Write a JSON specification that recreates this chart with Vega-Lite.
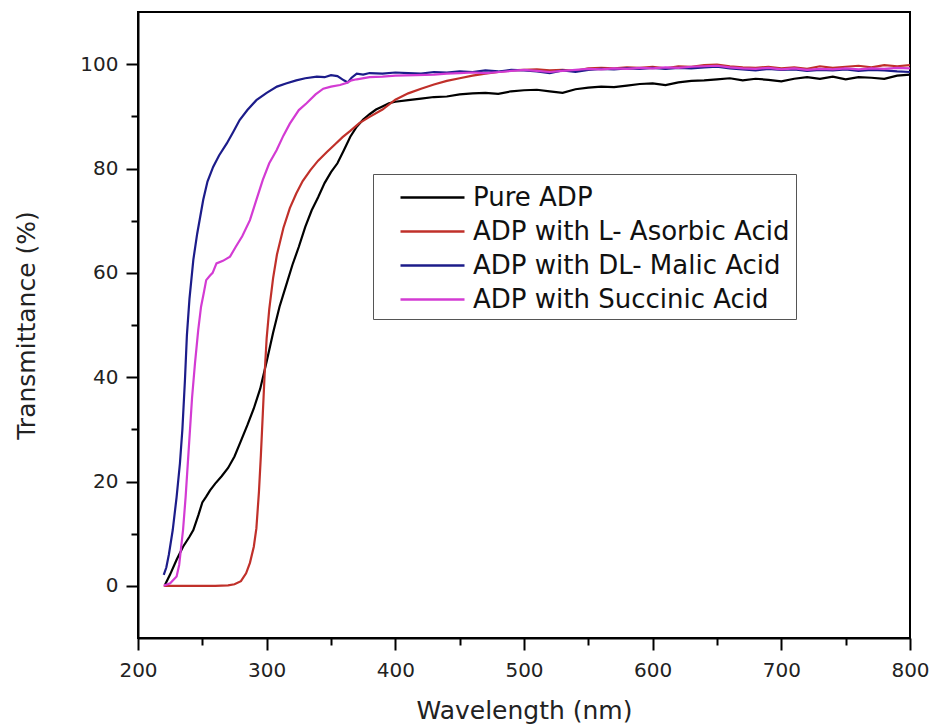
{
  "$schema": "https://vega.github.io/schema/vega-lite/v6.json",
  "width": 772,
  "height": 626,
  "autosize": {"type": "none"},
  "padding": {"left": 138, "top": 12, "right": 23, "bottom": 89},
  "background": "white",
  "config": {
    "font": "DejaVu Sans",
    "view": {"stroke": "black", "strokeWidth": 2},
    "axis": {"grid": false, "domainColor": "black", "domainWidth": 2, "tickColor": "black", "tickWidth": 2, "labelColor": "#222", "titleColor": "#222", "labelFont": "DejaVu Sans", "titleFont": "DejaVu Sans", "labelFontSize": 20, "titleFontSize": 25, "titleFontWeight": "normal"}
  },
  "datasets": {
    "raw": [
      {"s":"Pure ADP","w":221,"t":0.2},{"s":"Pure ADP","w":225,"t":2.2},{"s":"Pure ADP","w":230,"t":5},{"s":"Pure ADP","w":235,"t":7.5},{"s":"Pure ADP","w":240,"t":9.4},{"s":"Pure ADP","w":243,"t":10.7},{"s":"Pure ADP","w":247,"t":13.6},{"s":"Pure ADP","w":250,"t":16},{"s":"Pure ADP","w":253,"t":17.1},{"s":"Pure ADP","w":256,"t":18.3},{"s":"Pure ADP","w":260,"t":19.6},{"s":"Pure ADP","w":265,"t":21},{"s":"Pure ADP","w":270,"t":22.6},{"s":"Pure ADP","w":275,"t":24.8},{"s":"Pure ADP","w":280,"t":27.8},{"s":"Pure ADP","w":285,"t":30.8},{"s":"Pure ADP","w":290,"t":34},{"s":"Pure ADP","w":295,"t":37.8},{"s":"Pure ADP","w":300,"t":43},{"s":"Pure ADP","w":305,"t":48.5},{"s":"Pure ADP","w":310,"t":53.5},{"s":"Pure ADP","w":315,"t":57.5},{"s":"Pure ADP","w":320,"t":61.5},{"s":"Pure ADP","w":325,"t":65},{"s":"Pure ADP","w":330,"t":68.8},{"s":"Pure ADP","w":335,"t":72},{"s":"Pure ADP","w":340,"t":74.5},{"s":"Pure ADP","w":345,"t":77.2},{"s":"Pure ADP","w":350,"t":79.3},{"s":"Pure ADP","w":355,"t":81},{"s":"Pure ADP","w":360,"t":83.5},{"s":"Pure ADP","w":365,"t":86.1},{"s":"Pure ADP","w":370,"t":88},{"s":"Pure ADP","w":375,"t":89.4},{"s":"Pure ADP","w":380,"t":90.4},{"s":"Pure ADP","w":385,"t":91.3},{"s":"Pure ADP","w":390,"t":91.9},{"s":"Pure ADP","w":395,"t":92.5},{"s":"Pure ADP","w":400,"t":92.8},{"s":"Pure ADP","w":410,"t":93.1},{"s":"Pure ADP","w":420,"t":93.4},{"s":"Pure ADP","w":430,"t":93.7},{"s":"Pure ADP","w":440,"t":93.8},{"s":"Pure ADP","w":450,"t":94.2},{"s":"Pure ADP","w":460,"t":94.4},{"s":"Pure ADP","w":470,"t":94.5},{"s":"Pure ADP","w":480,"t":94.3},{"s":"Pure ADP","w":490,"t":94.8},{"s":"Pure ADP","w":500,"t":95},{"s":"Pure ADP","w":510,"t":95.1},{"s":"Pure ADP","w":520,"t":94.8},{"s":"Pure ADP","w":530,"t":94.5},{"s":"Pure ADP","w":540,"t":95.2},{"s":"Pure ADP","w":550,"t":95.5},{"s":"Pure ADP","w":560,"t":95.7},{"s":"Pure ADP","w":570,"t":95.6},{"s":"Pure ADP","w":580,"t":95.9},{"s":"Pure ADP","w":590,"t":96.2},{"s":"Pure ADP","w":600,"t":96.3},{"s":"Pure ADP","w":610,"t":96},{"s":"Pure ADP","w":620,"t":96.5},{"s":"Pure ADP","w":630,"t":96.8},{"s":"Pure ADP","w":640,"t":96.9},{"s":"Pure ADP","w":650,"t":97.1},{"s":"Pure ADP","w":660,"t":97.3},{"s":"Pure ADP","w":670,"t":96.9},{"s":"Pure ADP","w":680,"t":97.2},{"s":"Pure ADP","w":690,"t":97},{"s":"Pure ADP","w":700,"t":96.7},{"s":"Pure ADP","w":710,"t":97.2},{"s":"Pure ADP","w":720,"t":97.5},{"s":"Pure ADP","w":730,"t":97.2},{"s":"Pure ADP","w":740,"t":97.6},{"s":"Pure ADP","w":750,"t":97.1},{"s":"Pure ADP","w":760,"t":97.5},{"s":"Pure ADP","w":770,"t":97.4},{"s":"Pure ADP","w":780,"t":97.2},{"s":"Pure ADP","w":790,"t":97.8},{"s":"Pure ADP","w":800,"t":98},

      {"s":"ADP with L- Asorbic Acid","w":220,"t":0},{"s":"ADP with L- Asorbic Acid","w":230,"t":0},{"s":"ADP with L- Asorbic Acid","w":240,"t":0},{"s":"ADP with L- Asorbic Acid","w":250,"t":0},{"s":"ADP with L- Asorbic Acid","w":260,"t":0},{"s":"ADP with L- Asorbic Acid","w":270,"t":0.1},{"s":"ADP with L- Asorbic Acid","w":275,"t":0.3},{"s":"ADP with L- Asorbic Acid","w":280,"t":0.9},{"s":"ADP with L- Asorbic Acid","w":284,"t":2.4},{"s":"ADP with L- Asorbic Acid","w":287,"t":4.4},{"s":"ADP with L- Asorbic Acid","w":290,"t":7.5},{"s":"ADP with L- Asorbic Acid","w":292,"t":11},{"s":"ADP with L- Asorbic Acid","w":294,"t":18},{"s":"ADP with L- Asorbic Acid","w":295.5,"t":25},{"s":"ADP with L- Asorbic Acid","w":297,"t":33},{"s":"ADP with L- Asorbic Acid","w":298.5,"t":41},{"s":"ADP with L- Asorbic Acid","w":300,"t":47.5},{"s":"ADP with L- Asorbic Acid","w":302,"t":53},{"s":"ADP with L- Asorbic Acid","w":305,"t":59},{"s":"ADP with L- Asorbic Acid","w":308,"t":63.5},{"s":"ADP with L- Asorbic Acid","w":313,"t":68.6},{"s":"ADP with L- Asorbic Acid","w":318,"t":72.4},{"s":"ADP with L- Asorbic Acid","w":323,"t":75.2},{"s":"ADP with L- Asorbic Acid","w":328,"t":77.6},{"s":"ADP with L- Asorbic Acid","w":334,"t":79.7},{"s":"ADP with L- Asorbic Acid","w":340,"t":81.5},{"s":"ADP with L- Asorbic Acid","w":347,"t":83.2},{"s":"ADP with L- Asorbic Acid","w":353,"t":84.6},{"s":"ADP with L- Asorbic Acid","w":359,"t":86},{"s":"ADP with L- Asorbic Acid","w":365,"t":87.2},{"s":"ADP with L- Asorbic Acid","w":372,"t":88.7},{"s":"ADP with L- Asorbic Acid","w":380,"t":89.9},{"s":"ADP with L- Asorbic Acid","w":390,"t":91.3},{"s":"ADP with L- Asorbic Acid","w":400,"t":93.2},{"s":"ADP with L- Asorbic Acid","w":410,"t":94.4},{"s":"ADP with L- Asorbic Acid","w":420,"t":95.3},{"s":"ADP with L- Asorbic Acid","w":430,"t":96.1},{"s":"ADP with L- Asorbic Acid","w":440,"t":96.8},{"s":"ADP with L- Asorbic Acid","w":450,"t":97.3},{"s":"ADP with L- Asorbic Acid","w":460,"t":97.8},{"s":"ADP with L- Asorbic Acid","w":470,"t":98.2},{"s":"ADP with L- Asorbic Acid","w":480,"t":98.5},{"s":"ADP with L- Asorbic Acid","w":490,"t":98.8},{"s":"ADP with L- Asorbic Acid","w":500,"t":98.9},{"s":"ADP with L- Asorbic Acid","w":510,"t":99},{"s":"ADP with L- Asorbic Acid","w":520,"t":98.8},{"s":"ADP with L- Asorbic Acid","w":530,"t":98.9},{"s":"ADP with L- Asorbic Acid","w":540,"t":98.7},{"s":"ADP with L- Asorbic Acid","w":550,"t":99.2},{"s":"ADP with L- Asorbic Acid","w":560,"t":99.3},{"s":"ADP with L- Asorbic Acid","w":570,"t":99.2},{"s":"ADP with L- Asorbic Acid","w":580,"t":99.4},{"s":"ADP with L- Asorbic Acid","w":590,"t":99.3},{"s":"ADP with L- Asorbic Acid","w":600,"t":99.5},{"s":"ADP with L- Asorbic Acid","w":610,"t":99.2},{"s":"ADP with L- Asorbic Acid","w":620,"t":99.6},{"s":"ADP with L- Asorbic Acid","w":630,"t":99.5},{"s":"ADP with L- Asorbic Acid","w":640,"t":99.8},{"s":"ADP with L- Asorbic Acid","w":650,"t":99.9},{"s":"ADP with L- Asorbic Acid","w":660,"t":99.6},{"s":"ADP with L- Asorbic Acid","w":670,"t":99.4},{"s":"ADP with L- Asorbic Acid","w":680,"t":99.3},{"s":"ADP with L- Asorbic Acid","w":690,"t":99.5},{"s":"ADP with L- Asorbic Acid","w":700,"t":99.2},{"s":"ADP with L- Asorbic Acid","w":710,"t":99.4},{"s":"ADP with L- Asorbic Acid","w":720,"t":99.1},{"s":"ADP with L- Asorbic Acid","w":730,"t":99.6},{"s":"ADP with L- Asorbic Acid","w":740,"t":99.3},{"s":"ADP with L- Asorbic Acid","w":750,"t":99.5},{"s":"ADP with L- Asorbic Acid","w":760,"t":99.7},{"s":"ADP with L- Asorbic Acid","w":770,"t":99.4},{"s":"ADP with L- Asorbic Acid","w":780,"t":99.8},{"s":"ADP with L- Asorbic Acid","w":790,"t":99.6},{"s":"ADP with L- Asorbic Acid","w":800,"t":99.8},

      {"s":"ADP with DL- Malic Acid","w":220,"t":2.1},{"s":"ADP with DL- Malic Acid","w":222,"t":3.5},{"s":"ADP with DL- Malic Acid","w":224,"t":6},{"s":"ADP with DL- Malic Acid","w":227,"t":10.7},{"s":"ADP with DL- Malic Acid","w":230,"t":17},{"s":"ADP with DL- Malic Acid","w":232.6,"t":23.5},{"s":"ADP with DL- Malic Acid","w":234.5,"t":30},{"s":"ADP with DL- Malic Acid","w":236.5,"t":39.5},{"s":"ADP with DL- Malic Acid","w":238,"t":48},{"s":"ADP with DL- Malic Acid","w":240,"t":55},{"s":"ADP with DL- Malic Acid","w":243,"t":62.5},{"s":"ADP with DL- Malic Acid","w":246,"t":67.5},{"s":"ADP with DL- Malic Acid","w":250.7,"t":74},{"s":"ADP with DL- Malic Acid","w":254,"t":77.5},{"s":"ADP with DL- Malic Acid","w":258.4,"t":80.3},{"s":"ADP with DL- Malic Acid","w":263,"t":82.5},{"s":"ADP with DL- Malic Acid","w":269,"t":84.8},{"s":"ADP with DL- Malic Acid","w":274,"t":87},{"s":"ADP with DL- Malic Acid","w":279,"t":89.3},{"s":"ADP with DL- Malic Acid","w":285,"t":91.2},{"s":"ADP with DL- Malic Acid","w":292,"t":93.1},{"s":"ADP with DL- Malic Acid","w":300,"t":94.5},{"s":"ADP with DL- Malic Acid","w":308,"t":95.7},{"s":"ADP with DL- Malic Acid","w":315,"t":96.3},{"s":"ADP with DL- Malic Acid","w":323,"t":96.9},{"s":"ADP with DL- Malic Acid","w":330,"t":97.3},{"s":"ADP with DL- Malic Acid","w":339,"t":97.6},{"s":"ADP with DL- Malic Acid","w":345,"t":97.5},{"s":"ADP with DL- Malic Acid","w":350,"t":97.9},{"s":"ADP with DL- Malic Acid","w":355,"t":97.7},{"s":"ADP with DL- Malic Acid","w":360,"t":96.9},{"s":"ADP with DL- Malic Acid","w":363,"t":96.5},{"s":"ADP with DL- Malic Acid","w":366,"t":97.4},{"s":"ADP with DL- Malic Acid","w":370,"t":98.2},{"s":"ADP with DL- Malic Acid","w":375,"t":98},{"s":"ADP with DL- Malic Acid","w":380,"t":98.3},{"s":"ADP with DL- Malic Acid","w":390,"t":98.2},{"s":"ADP with DL- Malic Acid","w":400,"t":98.4},{"s":"ADP with DL- Malic Acid","w":410,"t":98.3},{"s":"ADP with DL- Malic Acid","w":420,"t":98.2},{"s":"ADP with DL- Malic Acid","w":430,"t":98.5},{"s":"ADP with DL- Malic Acid","w":440,"t":98.4},{"s":"ADP with DL- Malic Acid","w":450,"t":98.6},{"s":"ADP with DL- Malic Acid","w":460,"t":98.5},{"s":"ADP with DL- Malic Acid","w":470,"t":98.8},{"s":"ADP with DL- Malic Acid","w":480,"t":98.6},{"s":"ADP with DL- Malic Acid","w":490,"t":98.9},{"s":"ADP with DL- Malic Acid","w":500,"t":98.8},{"s":"ADP with DL- Malic Acid","w":510,"t":98.6},{"s":"ADP with DL- Malic Acid","w":520,"t":98.3},{"s":"ADP with DL- Malic Acid","w":530,"t":98.8},{"s":"ADP with DL- Malic Acid","w":540,"t":98.5},{"s":"ADP with DL- Malic Acid","w":550,"t":98.9},{"s":"ADP with DL- Malic Acid","w":560,"t":99.1},{"s":"ADP with DL- Malic Acid","w":570,"t":99},{"s":"ADP with DL- Malic Acid","w":580,"t":99.2},{"s":"ADP with DL- Malic Acid","w":590,"t":99.1},{"s":"ADP with DL- Malic Acid","w":600,"t":99.3},{"s":"ADP with DL- Malic Acid","w":610,"t":99.1},{"s":"ADP with DL- Malic Acid","w":620,"t":99.3},{"s":"ADP with DL- Malic Acid","w":630,"t":99.2},{"s":"ADP with DL- Malic Acid","w":640,"t":99.4},{"s":"ADP with DL- Malic Acid","w":650,"t":99.5},{"s":"ADP with DL- Malic Acid","w":660,"t":99.2},{"s":"ADP with DL- Malic Acid","w":670,"t":99},{"s":"ADP with DL- Malic Acid","w":680,"t":98.8},{"s":"ADP with DL- Malic Acid","w":690,"t":99.1},{"s":"ADP with DL- Malic Acid","w":700,"t":98.9},{"s":"ADP with DL- Malic Acid","w":710,"t":99},{"s":"ADP with DL- Malic Acid","w":720,"t":98.7},{"s":"ADP with DL- Malic Acid","w":730,"t":98.9},{"s":"ADP with DL- Malic Acid","w":740,"t":98.8},{"s":"ADP with DL- Malic Acid","w":750,"t":99},{"s":"ADP with DL- Malic Acid","w":760,"t":98.7},{"s":"ADP with DL- Malic Acid","w":770,"t":98.9},{"s":"ADP with DL- Malic Acid","w":780,"t":98.8},{"s":"ADP with DL- Malic Acid","w":790,"t":98.6},{"s":"ADP with DL- Malic Acid","w":800,"t":98.5},

      {"s":"ADP with Succinic Acid","w":220,"t":0},{"s":"ADP with Succinic Acid","w":225,"t":0.5},{"s":"ADP with Succinic Acid","w":230,"t":1.8},{"s":"ADP with Succinic Acid","w":232,"t":4},{"s":"ADP with Succinic Acid","w":235,"t":10.7},{"s":"ADP with Succinic Acid","w":237,"t":17},{"s":"ADP with Succinic Acid","w":240.4,"t":29.9},{"s":"ADP with Succinic Acid","w":242,"t":36},{"s":"ADP with Succinic Acid","w":244.3,"t":42.7},{"s":"ADP with Succinic Acid","w":246.8,"t":49},{"s":"ADP with Succinic Acid","w":249,"t":53.5},{"s":"ADP with Succinic Acid","w":251,"t":56},{"s":"ADP with Succinic Acid","w":253,"t":58.6},{"s":"ADP with Succinic Acid","w":256,"t":59.5},{"s":"ADP with Succinic Acid","w":258,"t":60},{"s":"ADP with Succinic Acid","w":261,"t":61.8},{"s":"ADP with Succinic Acid","w":266,"t":62.3},{"s":"ADP with Succinic Acid","w":271.5,"t":63.1},{"s":"ADP with Succinic Acid","w":276,"t":65},{"s":"ADP with Succinic Acid","w":281,"t":67},{"s":"ADP with Succinic Acid","w":287,"t":70.1},{"s":"ADP with Succinic Acid","w":292,"t":74},{"s":"ADP with Succinic Acid","w":297,"t":77.8},{"s":"ADP with Succinic Acid","w":302,"t":81},{"s":"ADP with Succinic Acid","w":307.7,"t":83.5},{"s":"ADP with Succinic Acid","w":313,"t":86.3},{"s":"ADP with Succinic Acid","w":318,"t":88.6},{"s":"ADP with Succinic Acid","w":325,"t":91.2},{"s":"ADP with Succinic Acid","w":331,"t":92.5},{"s":"ADP with Succinic Acid","w":338,"t":94.2},{"s":"ADP with Succinic Acid","w":344,"t":95.3},{"s":"ADP with Succinic Acid","w":350,"t":95.7},{"s":"ADP with Succinic Acid","w":357,"t":96},{"s":"ADP with Succinic Acid","w":362,"t":96.4},{"s":"ADP with Succinic Acid","w":366,"t":96.9},{"s":"ADP with Succinic Acid","w":370,"t":97.1},{"s":"ADP with Succinic Acid","w":380,"t":97.5},{"s":"ADP with Succinic Acid","w":390,"t":97.6},{"s":"ADP with Succinic Acid","w":400,"t":97.8},{"s":"ADP with Succinic Acid","w":416,"t":97.9},{"s":"ADP with Succinic Acid","w":430,"t":98},{"s":"ADP with Succinic Acid","w":440,"t":98.2},{"s":"ADP with Succinic Acid","w":450,"t":98.3},{"s":"ADP with Succinic Acid","w":460,"t":98.4},{"s":"ADP with Succinic Acid","w":470,"t":98.3},{"s":"ADP with Succinic Acid","w":481,"t":98.5},{"s":"ADP with Succinic Acid","w":490,"t":98.7},{"s":"ADP with Succinic Acid","w":500,"t":98.9},{"s":"ADP with Succinic Acid","w":510,"t":98.7},{"s":"ADP with Succinic Acid","w":520,"t":98.5},{"s":"ADP with Succinic Acid","w":530,"t":98.7},{"s":"ADP with Succinic Acid","w":540,"t":98.9},{"s":"ADP with Succinic Acid","w":550,"t":99.1},{"s":"ADP with Succinic Acid","w":560,"t":99},{"s":"ADP with Succinic Acid","w":570,"t":99.2},{"s":"ADP with Succinic Acid","w":580,"t":99.1},{"s":"ADP with Succinic Acid","w":590,"t":99.3},{"s":"ADP with Succinic Acid","w":600,"t":99.2},{"s":"ADP with Succinic Acid","w":610,"t":99.4},{"s":"ADP with Succinic Acid","w":620,"t":99.3},{"s":"ADP with Succinic Acid","w":630,"t":99.5},{"s":"ADP with Succinic Acid","w":640,"t":99.6},{"s":"ADP with Succinic Acid","w":650,"t":99.7},{"s":"ADP with Succinic Acid","w":660,"t":99.4},{"s":"ADP with Succinic Acid","w":670,"t":99.2},{"s":"ADP with Succinic Acid","w":680,"t":99.1},{"s":"ADP with Succinic Acid","w":690,"t":99.3},{"s":"ADP with Succinic Acid","w":700,"t":99},{"s":"ADP with Succinic Acid","w":710,"t":99.2},{"s":"ADP with Succinic Acid","w":720,"t":98.9},{"s":"ADP with Succinic Acid","w":730,"t":99.1},{"s":"ADP with Succinic Acid","w":740,"t":99},{"s":"ADP with Succinic Acid","w":750,"t":99.2},{"s":"ADP with Succinic Acid","w":760,"t":99},{"s":"ADP with Succinic Acid","w":770,"t":99.2},{"s":"ADP with Succinic Acid","w":780,"t":99.1},{"s":"ADP with Succinic Acid","w":790,"t":99.3},{"s":"ADP with Succinic Acid","w":800,"t":99.2}
    ]
  },
  "data": {"name": "raw"},
  "mark": {"type": "line", "strokeWidth": 2.2, "clip": true, "interpolate": "linear"},
  "encoding": {
    "x": {
      "field": "w", "type": "quantitative",
      "scale": {"domain": [200, 800], "nice": false, "zero": false},
      "axis": {
        "title": "Wavelength (nm)",
        "values": [200, 250, 300, 350, 400, 450, 500, 550, 600, 650, 700, 750, 800],
        "labelExpr": "datum.value % 100 === 0 ? datum.label : ''",
        "tickSize": {"condition": {"test": "datum.value % 100 === 0", "value": 12}, "value": 7},
        "labelPadding": 10,
        "labelFlush": false,
        "titlePadding": 18
      }
    },
    "y": {
      "field": "t", "type": "quantitative",
      "scale": {"domain": [-10, 110], "nice": false, "zero": false},
      "axis": {
        "title": "Transmittance (%)",
        "values": [0, 10, 20, 30, 40, 50, 60, 70, 80, 90, 100],
        "labelExpr": "datum.value % 20 === 0 ? datum.label : ''",
        "tickSize": {"condition": {"test": "datum.value % 20 === 0", "value": 12}, "value": 7},
        "labelPadding": 8,
        "titlePadding": 40
      }
    },
    "color": {
      "field": "s", "type": "nominal",
      "scale": {
        "domain": ["Pure ADP", "ADP with L- Asorbic Acid", "ADP with DL- Malic Acid", "ADP with Succinic Acid"],
        "range": ["#000000", "#c0302a", "#1c1c8a", "#d33bd3"]
      },
      "legend": {
        "title": null,
        "orient": "none",
        "legendX": 235,
        "legendY": 162,
        "symbolType": "M-2,0H2",
        "symbolSize": 1024,
        "symbolStrokeWidth": 2.5,
        "symbolOffset": 36,
        "labelFontSize": 26,
        "labelFont": "DejaVu Sans",
        "labelColor": "#111",
        "labelOffset": 23,
        "labelLimit": 500,
        "rowPadding": 3,
        "padding": 6,
        "strokeColor": "#555",
        "fillColor": "white"
      }
    }
  }
}
